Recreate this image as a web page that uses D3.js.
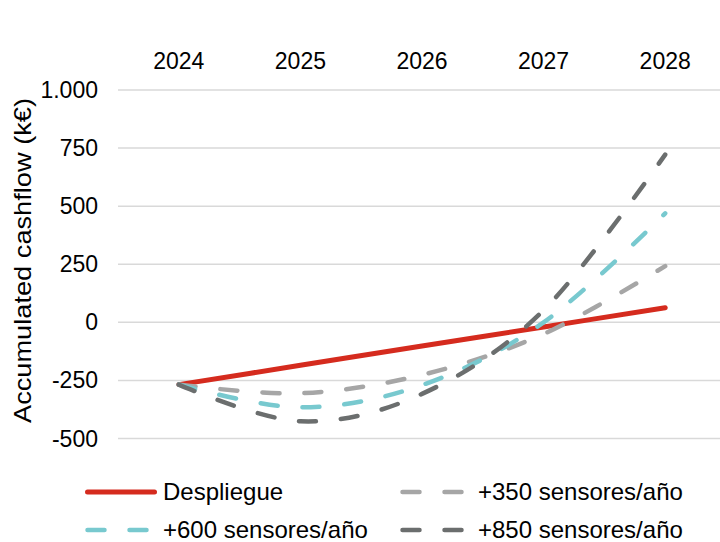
<!DOCTYPE html>
<html>
<head>
<meta charset="utf-8">
<script src="https://cdn.jsdelivr.net/npm/d3@7"></script>
<style>
  body { margin: 0; background: #fff; }
  svg { display: block; font-family: "Liberation Sans", Arial, sans-serif; }
</style>
</head>
<body>
<svg width="720" height="542"></svg>
<script>
const width = 720;
const height = 542;
const fontSize = 23;
const legendFontSize = 24;

const years = ["2024", "2025", "2026", "2027", "2028"];
const despliegue = [-268, -185, -102, -20, 63];
const s350 = [-268, -305, -226, -50, 242];
const s600 = [-268, -366, -270, 0, 469];
const s850 = [-268, -426, -308, 52, 722];
const yTicks = [-500, -250, 0, 250, 500, 750, 1000];

const series = [
  { name: "Despliegue", values: despliegue, color: "#d52b1e", dash: null, width: 5 },
  { name: "+350 sensores/año", values: s350, color: "#a6a6a6", dash: "17,25", width: 4.5 },
  { name: "+600 sensores/año", values: s600, color: "#78c9cf", dash: "17,25", width: 4.5 },
  { name: "+850 sensores/año", values: s850, color: "#6b6e6e", dash: "17,25", width: 4.5 }
];

const svg = d3.select("svg");

const x = d3.scalePoint().domain(years).range([118, 726]).padding(0.5);
const y = d3.scaleLinear().domain([-500, 1000]).range([438.5, 90]);

// spanish style: dot for thousands, plain hyphen for minus
const fmt = v => d3.format(",")(v).replace(/,/g, ".").replace("−", "-");

// gridlines
svg.append("g")
  .selectAll("line")
  .data(yTicks)
  .enter()
  .append("line")
  .attr("x1", 118)
  .attr("x2", 726)
  .attr("y1", d => y(d))
  .attr("y2", d => y(d))
  .style("stroke", "#d9d9d9")
  .style("stroke-width", 1.5);

// y tick labels
svg.append("g")
  .selectAll("text")
  .data(yTicks)
  .enter()
  .append("text")
  .attr("x", 98)
  .attr("y", d => y(d))
  .attr("dy", "0.35em")
  .attr("text-anchor", "end")
  .style("font-size", fontSize + "px")
  .style("fill", "#000")
  .text(fmt);

// x labels at top
svg.append("g")
  .selectAll("text")
  .data(years)
  .enter()
  .append("text")
  .attr("x", d => x(d))
  .attr("y", 69)
  .attr("text-anchor", "middle")
  .style("font-size", fontSize + "px")
  .style("fill", "#000")
  .text(d => d);

// y axis title
svg.append("text")
  .attr("transform", `translate(31,261) rotate(-90)`)
  .attr("x", -162)
  .attr("textLength", 325)
  .attr("lengthAdjust", "spacingAndGlyphs")
  .style("font-size", "24px")
  .style("fill", "#000")
  .text("Accumulated cashflow (k€)");

const line = d3.line()
  .x((d, i) => x(years[i]))
  .y(d => y(d))
  .curve(d3.curveCatmullRom.alpha(0));

svg.append("g")
  .selectAll("path")
  .data(series)
  .enter()
  .append("path")
  .attr("d", d => line(d.values))
  .style("fill", "none")
  .style("stroke", d => d.color)
  .style("stroke-width", d => d.width)
  .style("stroke-linecap", "round")
  .style("stroke-dasharray", d => d.dash);

// legend
const legendPos = [
  { x: 87.5, y: 492 },
  { x: 402.5, y: 492 },
  { x: 87.5, y: 530 },
  { x: 402.5, y: 530 }
];

const legend = svg.append("g")
  .selectAll("g")
  .data(series)
  .enter()
  .append("g")
  .attr("transform", (d, i) => `translate(${legendPos[i].x},${legendPos[i].y})`);

legend.append("line")
  .attr("x1", 0)
  .attr("x2", 67)
  .style("stroke", d => d.color)
  .style("stroke-width", d => d.width)
  .style("stroke-linecap", "round")
  .style("stroke-dasharray", d => d.dash);

legend.append("text")
  .attr("x", 75.5)
  .attr("dy", "0.35em")
  .style("font-size", legendFontSize + "px")
  .style("fill", "#000")
  .text(d => d.name);
</script>
</body>
</html>
